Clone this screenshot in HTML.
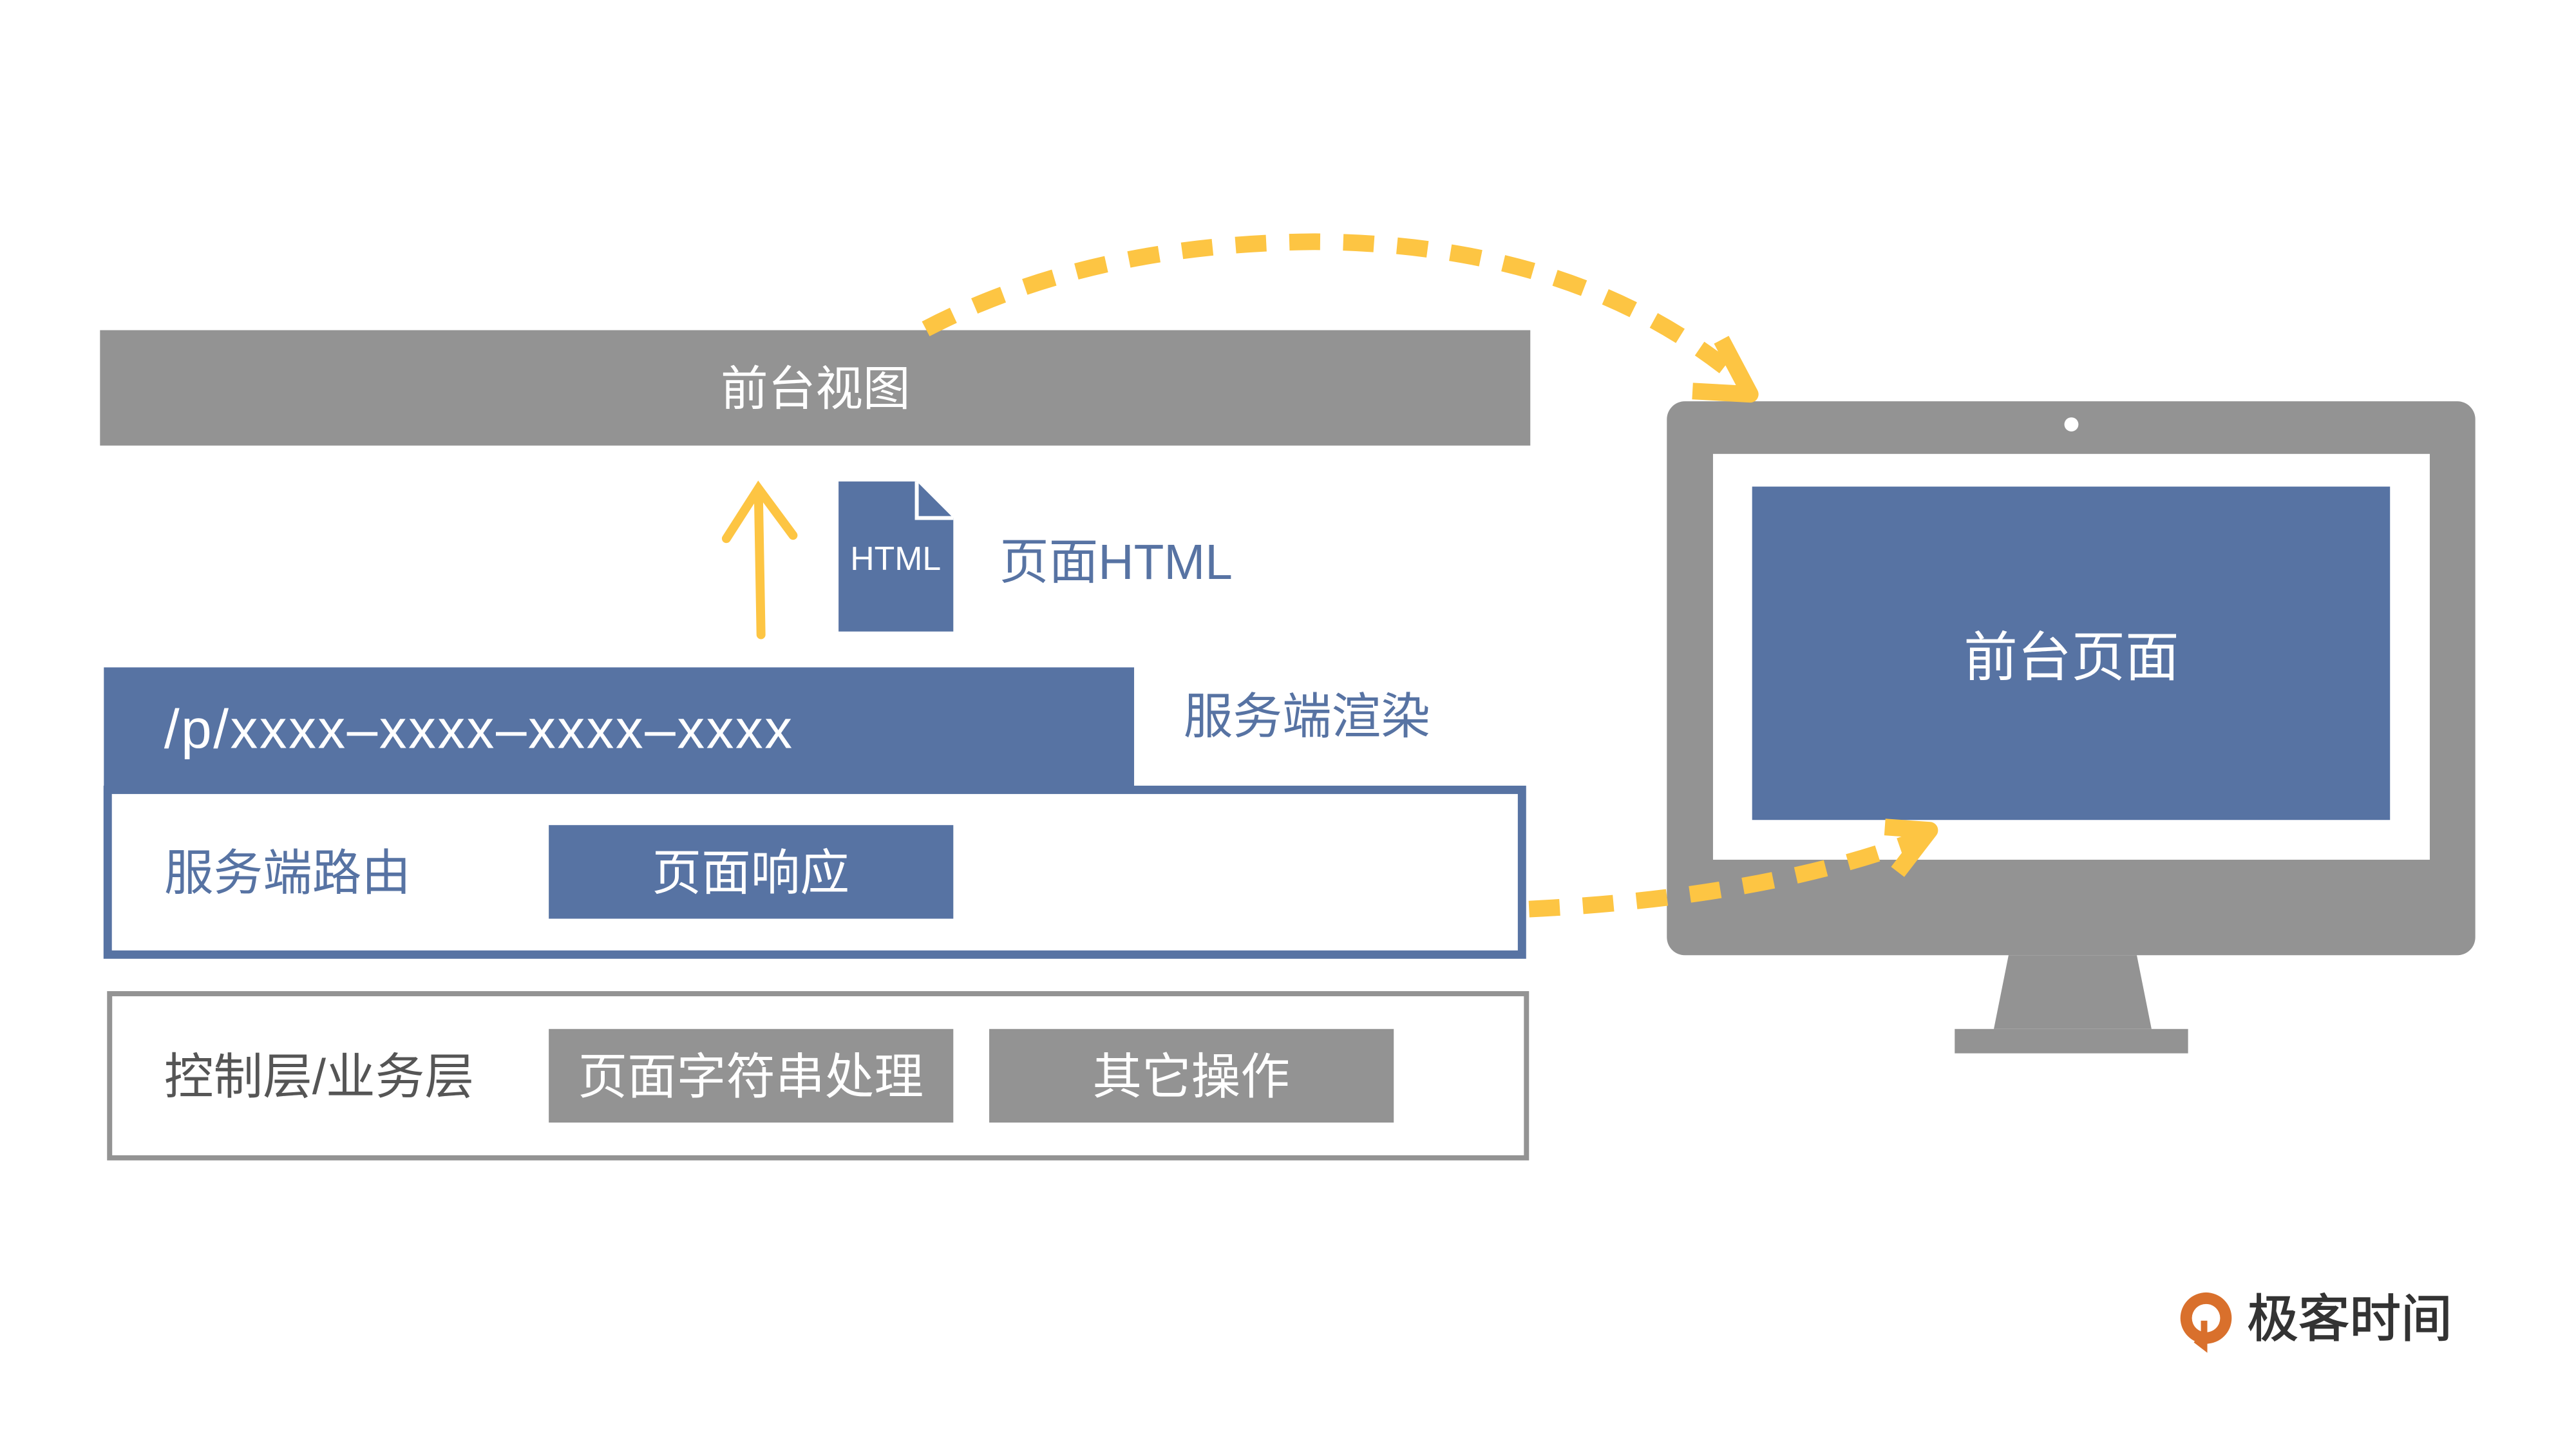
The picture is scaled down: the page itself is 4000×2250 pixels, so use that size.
<!DOCTYPE html>
<html><head><meta charset="utf-8"><style>
html,body{margin:0;padding:0;background:#fff;}
svg{display:block;}
text{font-family:"Liberation Sans","Noto Sans CJK SC",sans-serif;}
</style></head><body>
<svg width="4000" height="2250" viewBox="0 0 4000 2250" xmlns="http://www.w3.org/2000/svg">
<rect width="4000" height="2250" fill="#fff"/>
<g transform="scale(0.9955)">
<!-- top bar -->
<rect x="156" y="515" width="2231" height="180" fill="#939393"/>
<text x="1272" y="632" font-size="74" fill="#fff" text-anchor="middle">前台视图</text>
<!-- up arrow -->
<g stroke="#fdc543" stroke-width="14" fill="none" stroke-linecap="round">
<path d="M1187 990 L1183 765"/>
<path d="M1133 840 L1183 762 L1237 835"/>
</g>
<!-- HTML doc -->
<path d="M1308 751 L1430 751 L1487 808 L1487 985 L1308 985 Z" fill="#5773a3"/>
<path d="M1430 751 L1430 808 L1487 808" fill="none" stroke="#fff" stroke-width="6"/>
<text x="1397" y="889" font-size="52" fill="#fff" text-anchor="middle">HTML</text>
<text x="1559" y="903" font-size="77" fill="#5773a3">页面HTML</text>
<!-- router box -->
<rect x="168" y="1232" width="2206" height="257" fill="#fff" stroke="#5773a3" stroke-width="13"/>
<rect x="162" y="1041" width="1607" height="197" fill="#5773a3"/>
<text x="256" y="1167" font-size="86" fill="#fff" letter-spacing="2.5">/p/xxxx–xxxx–xxxx–xxxx</text>
<text x="1846" y="1144" font-size="77" fill="#5773a3">服务端渲染</text>
<text x="256" y="1388" font-size="77" fill="#5773a3">服务端路由</text>
<rect x="856" y="1287" width="631" height="146" fill="#5773a3"/>
<text x="1171" y="1388" font-size="77" fill="#fff" text-anchor="middle">页面响应</text>
<!-- control box -->
<rect x="171" y="1550" width="2210" height="256" fill="#fff" stroke="#939393" stroke-width="8"/>
<text x="256" y="1706" font-size="77" fill="#555">控制层/业务层</text>
<rect x="856" y="1605" width="631" height="146" fill="#939393"/>
<text x="1171" y="1706" font-size="77" fill="#fff" text-anchor="middle">页面字符串处理</text>
<rect x="1543" y="1605" width="631" height="146" fill="#939393"/>
<text x="1858" y="1706" font-size="77" fill="#fff" text-anchor="middle">其它操作</text>
<!-- monitor -->
<rect x="2600" y="626" width="1261" height="864" rx="28" fill="#939393"/>
<rect x="2672" y="708" width="1118" height="633" fill="#fff"/>
<rect x="2733" y="759" width="995" height="520" fill="#5773a3"/>
<circle cx="3231" cy="662" r="11" fill="#fff"/>
<polygon points="3133,1490 3333,1490 3356,1605 3110,1605" fill="#939393"/>
<rect x="3049" y="1605" width="364" height="38" fill="#939393"/>
<text x="3231" y="1054" font-size="84" fill="#fff" text-anchor="middle">前台页面</text>
<!-- dashed curves -->
<g stroke="#fdc543" stroke-width="26" fill="none">
<path d="M1444 513 Q1700 380 2051 377 Q2450 380 2700 580" stroke-dasharray="48 36"/>
<path d="M2385 1418 Q2750 1400 2990 1310" stroke-dasharray="48 36"/>
</g>
<g stroke="#fdc543" stroke-width="26" fill="none" stroke-linejoin="round">
<path d="M2685 530 L2730 615 L2640 610"/>
<path d="M2940 1290 L3010 1295 L2960 1360"/>
</g>
<!-- logo -->
<circle cx="3441" cy="2056" r="40" fill="#d9702c"/>
<circle cx="3441" cy="2056" r="22" fill="#fff"/>
<path d="M3438 2060 L3438 2100 L3425 2090" stroke="#d9702c" stroke-width="10" fill="none"/>
<text x="3505" y="2085" font-size="80" fill="#333" stroke="#333" stroke-width="1.5">极客时间</text>
</g>
</svg>
</body></html>
